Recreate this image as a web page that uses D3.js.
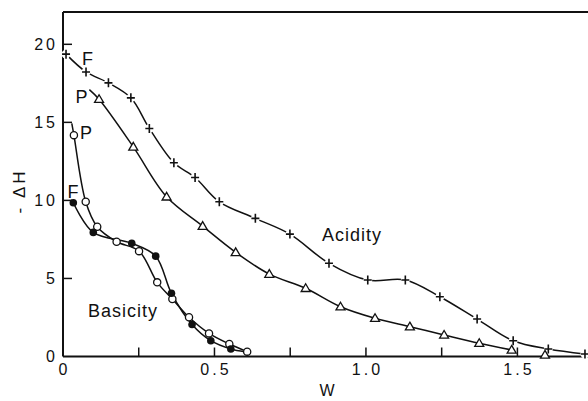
<!DOCTYPE html>
<html>
<head>
<meta charset="utf-8">
<script src="https://cdn.jsdelivr.net/npm/d3@7"></script>
<style>
  html, body { margin: 0; padding: 0; background: #fff; }
  svg { display: block; font-family: "Liberation Sans", Arial, Helvetica, sans-serif; }
</style>
</head>
<body>
<svg id="chart" width="588" height="401"></svg>
<script>
// ---- Data ----
// Acidity, F (plus markers)
const acidF_W = [0.010, 0.076, 0.150, 0.224, 0.285, 0.366, 0.436, 0.516, 0.635, 0.749, 0.878, 1.006, 1.130, 1.244, 1.367, 1.486, 1.602, 1.723];
const acidF_H = [19.37, 18.23, 17.53, 16.57, 14.61, 12.41, 11.47, 9.91, 8.85, 7.84, 5.97, 4.90, 4.90, 3.83, 2.40, 1.01, 0.48, 0.16];
// Acidity, P (open triangles); curve starts slightly before first marker
const acidP_start = [0.087, 17.10];
const acidP_W = [0.119, 0.232, 0.342, 0.461, 0.570, 0.681, 0.801, 0.916, 1.030, 1.145, 1.258, 1.374, 1.481, 1.591];
const acidP_H = [16.48, 13.43, 10.23, 8.35, 6.67, 5.28, 4.37, 3.19, 2.45, 1.91, 1.38, 0.85, 0.42, 0.10];
const acidP_linePoints = 13; // the last triangle is not joined by the curve
// Basicity, P (open circles)
const basP_start = [0.029, 14.93];
const basP_W = [0.036, 0.075, 0.113, 0.177, 0.251, 0.311, 0.361, 0.416, 0.482, 0.549, 0.608];
const basP_H = [14.18, 9.91, 8.31, 7.35, 6.75, 4.75, 3.68, 2.51, 1.48, 0.80, 0.31];
// Basicity, F (filled circles)
const basF_W = [0.034, 0.100, 0.227, 0.306, 0.358, 0.426, 0.488, 0.554];
const basF_H = [9.85, 7.95, 7.25, 6.43, 4.05, 2.05, 1.01, 0.48];
const basF_end = [0.600, 0.31];

const xTicksMajor = [0, 0.5, 1.0, 1.5];
const xTickLabels = ["0", "0.5", "1.0", "1.5"];
const xTicksAll = [0.25, 0.5, 0.75, 1.0, 1.25, 1.5];
const yTicks = [0, 5, 10, 15, 20];
const yTickLabels = ["0", "5", "10", "15", "20"];

// ---- Layout ----
const svg = d3.select("#chart");
const x = d3.scaleLinear().domain([0, 1.733]).range([63, 588]);
const y = d3.scaleLinear().domain([0, 22.07]).range([356.5, 12]);

const zip = (W, H) => W.map((w, i) => [w, H[i]]);
const line = d3.line().x(d => x(d[0])).y(d => y(d[1])).curve(d3.curveCatmullRom.alpha(0.5));

// frame: top line
svg.append("line").attr("x1", 63).attr("x2", 588).attr("y1", 12).attr("y2", 12)
  .attr("stroke", "#111").attr("stroke-width", 2);

// X axis (inward ticks)
const gx = svg.append("g").attr("transform", `translate(0,${y(0)})`);
gx.append("line").attr("x1", 63).attr("x2", 588).attr("stroke", "#111").attr("stroke-width", 2);
gx.selectAll("line.tk").data(xTicksAll).join("line").attr("class", "tk")
  .attr("x1", d => x(d)).attr("x2", d => x(d)).attr("y1", 0).attr("y2", -9)
  .attr("stroke", "#111").attr("stroke-width", 1.5);
gx.selectAll("text").data(xTicksMajor).join("text")
  .attr("x", d => x(d) + 1.5).attr("y", 18)
  .attr("text-anchor", "middle").attr("font-size", 16).attr("letter-spacing", "3px")
  .attr("fill", "#111").text((d, i) => xTickLabels[i]);

// Y axis (inward ticks)
const gy = svg.append("g").attr("transform", `translate(${x(0)},0)`);
gy.append("line").attr("y1", 12).attr("y2", y(0)).attr("stroke", "#111").attr("stroke-width", 2);
gy.selectAll("line.tk").data(yTicks.filter(d => d > 0)).join("line").attr("class", "tk")
  .attr("x1", 0).attr("x2", 9).attr("y1", d => y(d)).attr("y2", d => y(d))
  .attr("stroke", "#111").attr("stroke-width", 1.5);
gy.selectAll("text").data(yTicks).join("text")
  .attr("x", -5).attr("y", d => y(d)).attr("dy", "0.36em")
  .attr("text-anchor", "end").attr("font-size", 16).attr("letter-spacing", "3px")
  .attr("fill", "#111").text((d, i) => yTickLabels[i]);

// Axis titles
svg.append("text").attr("x", 327).attr("y", 395.5).attr("text-anchor", "middle")
  .attr("font-size", 16).attr("fill", "#111").text("W");
svg.append("text").attr("transform", "translate(19,191) rotate(-90)")
  .attr("text-anchor", "middle").attr("dominant-baseline", "central")
  .attr("font-size", 17).attr("letter-spacing", "3px").attr("fill", "#111").text("- ΔH");

// ---- Curves ----
const curves = [
  zip(acidF_W, acidF_H),
  [acidP_start].concat(zip(acidP_W, acidP_H).slice(0, acidP_linePoints)),
  [basP_start].concat(zip(basP_W, basP_H)),
  zip(basF_W, basF_H).concat([basF_end])
];
svg.selectAll("path.curve").data(curves).join("path").attr("class", "curve")
  .attr("d", line).attr("fill", "none").attr("stroke", "#111").attr("stroke-width", 1.5);

// ---- Markers ----
// plus (with small white gap around)
const gF = svg.append("g");
const plusData = zip(acidF_W, acidF_H);
gF.selectAll("circle").data(plusData).join("circle")
  .attr("cx", d => x(d[0])).attr("cy", d => y(d[1])).attr("r", 4.5).attr("fill", "#fff");
gF.selectAll("path").data(plusData).join("path")
  .attr("transform", d => `translate(${x(d[0])},${y(d[1])})`)
  .attr("d", "M-4,0H4M0,-4.5V4.5").attr("stroke", "#111").attr("stroke-width", 1.6).attr("fill", "none");

// triangles
svg.append("g").selectAll("path").data(zip(acidP_W, acidP_H)).join("path")
  .attr("transform", d => `translate(${x(d[0])},${y(d[1])})`)
  .attr("d", "M0,-4.5L4.5,3.2L-4.5,3.2Z")
  .attr("fill", "#fff").attr("stroke", "#111").attr("stroke-width", 1.3);

// open circles
svg.append("g").selectAll("circle").data(zip(basP_W, basP_H)).join("circle")
  .attr("cx", d => x(d[0])).attr("cy", d => y(d[1])).attr("r", 3.6)
  .attr("fill", "#fff").attr("stroke", "#111").attr("stroke-width", 1.3);

// filled circles
svg.append("g").selectAll("circle").data(zip(basF_W, basF_H)).join("circle")
  .attr("cx", d => x(d[0])).attr("cy", d => y(d[1])).attr("r", 3.8)
  .attr("fill", "#111");

// ---- Labels ----
const labels = [
  { t: "F", x: 82, y: 64.5 },
  { t: "P", x: 75.5, y: 102.5 },
  { t: "P", x: 80, y: 139 },
  { t: "F", x: 67.5, y: 197.5 },
  { t: "Acidity", x: 322, y: 241 },
  { t: "Basicity", x: 88, y: 316.5 }
];
svg.append("g").selectAll("text").data(labels).join("text")
  .attr("x", d => d.x).attr("y", d => d.y)
  .attr("font-size", 18).attr("letter-spacing", "1px").attr("fill", "#111")
  .text(d => d.t);
</script>
</body>
</html>
